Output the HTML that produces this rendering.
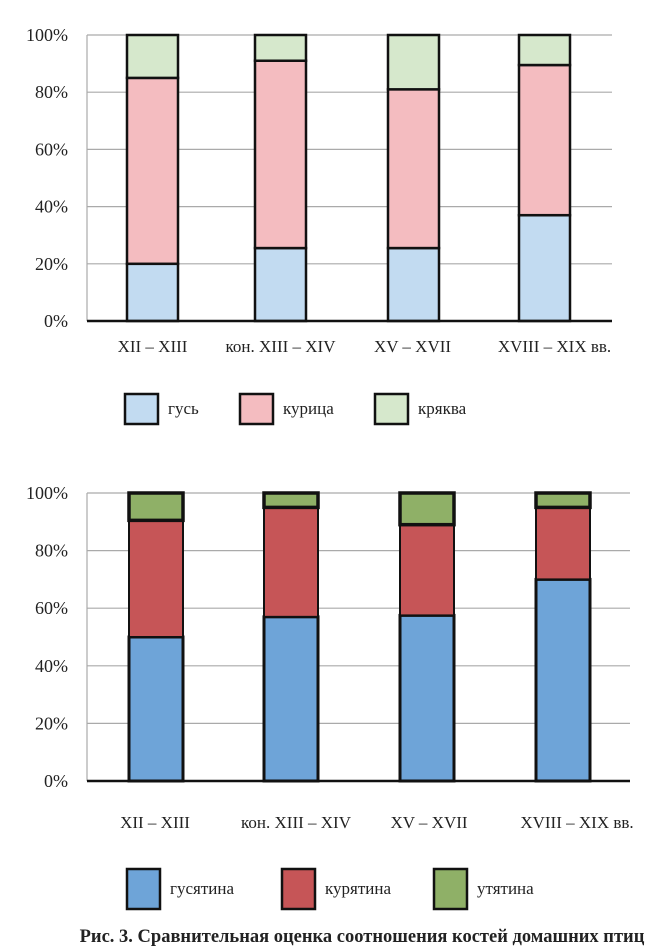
<!DOCTYPE html>
<html><head><meta charset="utf-8"><style>
html,body{margin:0;padding:0;background:#fff;}
svg{display:block;font-family:"Liberation Serif","DejaVu Serif",serif;}
</style></head><body>
<svg id="s" width="662" height="948" viewBox="0 0 662 948">
<text x="362" y="942" text-anchor="middle" font-size="18.5" font-weight="bold" fill="#222">Рис. 3. Сравнительная оценка соотношения костей домашних птиц</text>
</svg>
<script>
const categories1 = ["XII – XIII","кон. XIII – XIV","XV – XVII","XVIII – XIX вв."];
const gus = [20, 25.5, 25.5, 37];
const kurica = [65, 65.5, 55.5, 52.5];
const kryakva = [15, 9, 19, 10.5];
const categories2 = ["XII – XIII","кон. XIII – XIV","XV – XVII","XVIII – XIX вв."];
const gusyatina = [50, 57, 57.5, 70];
const kuryatina = [40.5, 38, 31.5, 25];
const utyatina = [9.5, 5, 11, 5];
const ticks = ["0%","20%","40%","60%","80%","100%"];
const ns="http://www.w3.org/2000/svg", svg=document.getElementById('s');
function mk(t,a,p){const e=document.createElementNS(ns,t);for(const k in a)e.setAttribute(k,a[k]);(p||svg).appendChild(e);return e;}
function chart(cfg){
  const g=mk('g',{});
  
  
  const y=v=>cfg.y0-(cfg.y0-cfg.y100)*v/100;
  ticks.forEach((t,i)=>{const v=i*20;
    if(i>0){const l=mk('line',{x1:cfg.ax0,x2:cfg.ax1,y1:y(v),y2:y(v),stroke:'#aaa','stroke-width':1.2},g);
      }
    const tx=mk('text',{x:68,y:y(v)+6,'text-anchor':'end','font-size':18,fill:'#222'},g);tx.textContent=t;
    });
  const va=mk('line',{x1:cfg.ax0,x2:cfg.ax0,y1:cfg.y100,y2:cfg.y0,stroke:'#aaa','stroke-width':1.2},g);
  
  cfg.cats.forEach((c,i)=>{let base=0;const x=cfg.bx[i];
    cfg.series.forEach((s,j)=>{const v=s[i];
      const r=mk('rect',{x:x,y:y(base+v),width:cfg.bw,height:y(base)-y(base+v),fill:cfg.colors[j],stroke:'#111','stroke-width':cfg.sw[j]},g);
      
      
      base+=v;});
    const tl=mk('text',{x:x+cfg.bw/2+cfg.lo[i],y:cfg.ly,'text-anchor':'middle','font-size':17,fill:'#222'},g);tl.textContent=c;
    });
  const xa=mk('line',{x1:cfg.ax0,x2:cfg.ax1,y1:cfg.y0,y2:cfg.y0,stroke:'#111','stroke-width':2.5},g);
  
  cfg.legX.forEach((lx,j)=>{
    const b=mk('rect',{x:lx,y:cfg.legY,width:33,height:cfg.legH,fill:cfg.colors[j],stroke:'#111','stroke-width':2.5},g);
    
    const t=mk('text',{x:lx+43,y:cfg.legY+cfg.legH/2+5,'font-size':17,fill:'#222'},g);t.textContent=cfg.labels[j];
    });
}
chart({name:'chart-top',y0:321,y100:35,ax0:87,ax1:612,bx:[127,255,388,519],bw:51,cats:categories1,
  series:[gus,kurica,kryakva],colors:['#c2dbf1','#f4bcc0','#d6e8cc'],sw:[2.5,2.5,2.5],keys:['gus','kurica','kryakva'],
  labels:['гусь','курица','кряква'],ly:352,lo:[0,0,-1,10],legX:[125,240,375],legY:394,legH:30});
chart({name:'chart-bottom',y0:781,y100:493,ax0:87,ax1:630,bx:[129,264,400,536],bw:54,cats:categories2,
  series:[gusyatina,kuryatina,utyatina],colors:['#6ea4d8','#c65557','#8fb067'],sw:[3,2,3.5],keys:['gusyatina','kuryatina','utyatina'],
  labels:['гусятина','курятина','утятина'],ly:828,lo:[-1,5,2,14],legX:[127,282,434],legY:869,legH:40});
</script>
</body></html>
